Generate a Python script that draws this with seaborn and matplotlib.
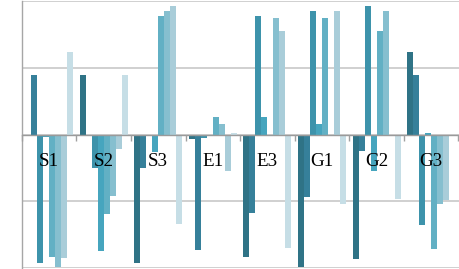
import matplotlib
matplotlib.use("Agg")
import matplotlib.pyplot as plt
from matplotlib.ticker import FixedLocator
import seaborn as sns
import pandas as pd

categories = ["S1", "S2", "S3", "E1", "E3", "G1", "G2", "G3"]
series_names = ["s0", "s1", "s2", "s3", "s4", "s5", "s6", "s7"]
s0 = [0.00, 0.89, -1.93, -0.06, -1.83, -1.98, -1.87, 1.23]
s1 = [0.89, 0.00, -0.50, -1.73, -1.18, -0.93, -0.24, 0.89]
s2 = [-1.93, -0.50, 0.00, -0.05, 1.78, 1.85, 1.93, -1.36]
s3 = [-0.04, -1.74, -0.26, 0.00, 0.26, 0.16, -0.55, 0.02]
s4 = [-1.83, -1.19, 1.78, 0.26, 0.00, 1.74, 1.55, -1.72]
s5 = [-1.98, -0.92, 1.85, 0.16, 1.74, 0.00, 1.85, -1.04]
s6 = [-1.85, -0.22, 1.93, -0.55, 1.55, 1.85, 0.00, -0.98]
s7 = [1.23, 0.89, -1.34, 0.02, -1.70, -1.04, -0.96, 0.00]
y_ticks = [-2, -1, 0, 1, 2]

colors = ["#2f7386", "#36809a", "#3d93ab", "#46a5be",
          "#62b0c4", "#86bfcf", "#a9cdd9", "#c6dee6"]

all_series = [s0, s1, s2, s3, s4, s5, s6, s7]
rows = []
for name, vals in zip(series_names, all_series):
    for c, v in zip(categories, vals):
        rows.append({"cat": c, "series": name, "val": v})
df = pd.DataFrame(rows)

sns.set_style("white")
plt.rcParams["font.family"] = ["Liberation Serif", "DejaVu Serif"]

W, H = 460, 269
fig = plt.figure(figsize=(W / 100, H / 100), dpi=100)
left_px = 21.7
ax = fig.add_axes([left_px / W, 1 / H, (W - left_px) / W, 267 / H])

sns.barplot(data=df, x="cat", y="val", hue="series", order=categories,
            hue_order=series_names, palette=colors, width=0.88, gap=0,
            saturation=1, linewidth=0, edgecolor="none", legend=False,
            errorbar=None, ax=ax)

group_px = 54.6
ax.set_xlim(-0.5, (W - left_px) / group_px - 0.5)
ax.set_ylim(-2, 2)
ax.set_yticks(y_ticks)
ax.tick_params(axis="y", length=0, labelleft=False)
ax.set_axisbelow(True)
ax.yaxis.grid(True, color="#c8c8c8", linewidth=1.2)
ax.xaxis.grid(False)

ax.set_xlabel("")
ax.set_ylabel("")

for s in ["top", "right"]:
    ax.spines[s].set_visible(False)
ax.spines["left"].set_color("#a6a6a6")
ax.spines["left"].set_linewidth(1.0)
ax.spines["bottom"].set_position(("data", 0))
ax.spines["bottom"].set_color("#9a9a9a")
ax.spines["bottom"].set_linewidth(1.0)
ax.spines["bottom"].set_zorder(3)

ax.set_xticks(range(len(categories)))
ax.set_xticklabels(categories)
ax.xaxis.set_minor_locator(FixedLocator([i - 0.5 for i in range(len(categories) + 1)]))
ax.tick_params(axis="x", which="major", length=0, pad=13.5, labelsize=13.7,
               labelcolor="black")
ax.tick_params(axis="x", which="minor", length=4.3, width=1.0, color="#a0a0a0",
               direction="out", bottom=True)
ax.xaxis.set_zorder(4)

fig.savefig("out.png", dpi=100)
